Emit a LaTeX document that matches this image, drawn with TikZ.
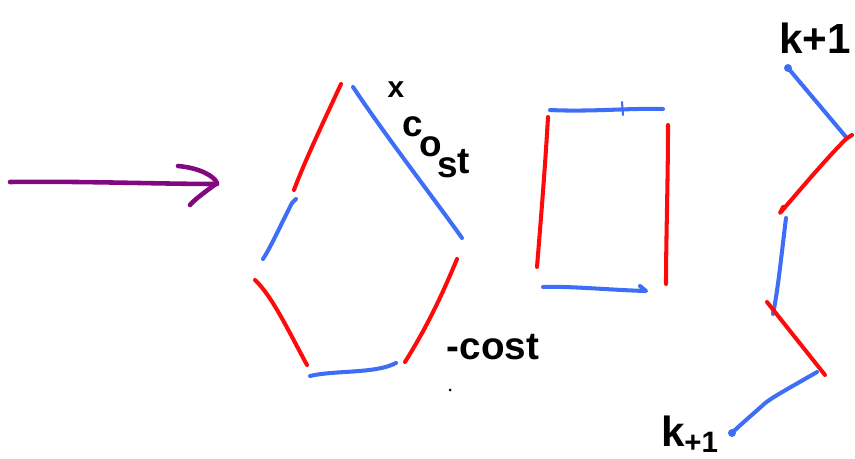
\documentclass[tikz,border=0pt]{standalone}
\usepackage{fontspec}
\setmainfont{Liberation Sans}
\usetikzlibrary{arrows.meta}
\definecolor{penred}{HTML}{FF0A0A}
\definecolor{penblue}{HTML}{3D6EF5}
\definecolor{penpurple}{HTML}{82087F}

\begin{document}
\begin{tikzpicture}[x=0.02cm, y=-0.02cm,
  pen/.style={line width=2.3pt, line cap=round, line join=round},
  redpen/.style={pen, draw=penred},
  bluepen/.style={pen, draw=penblue},
  purplepen/.style={pen, line width=2.6pt, draw=penpurple},
  ink/.style={inner sep=0pt, font=\bfseries},
  enddot/.style={fill=penblue, draw=none}
]
  \useasboundingbox (0,0) rectangle (855,459);

  % arrow on the left
  \draw[purplepen] (10,182) .. controls (80,181) and (160,184) .. (217,184);
  \draw[purplepen] (178,166) .. controls (200,168) and (214,176) .. (217,183)
    .. controls (208,190) and (196,198) .. (190,205);

  % pentagon-like ring
  \draw[redpen]  (341,84) .. controls (330,108) and (305,160) .. (294,190);
  \draw[bluepen] (353,87) .. controls (385,135) and (435,200) .. (462,238);
  \draw[bluepen] (296,199) -- (292,203) .. controls (282,222) and (272,245) .. (263,259);
  \draw[redpen]  (255,280) .. controls (272,296) and (288,330) .. (307,365);
  \draw[bluepen] (310,376) .. controls (335,370) and (375,374) .. (396,363);
  \draw[redpen]  (457,259) .. controls (440,300) and (425,330) .. (405,362);

  \node[ink, font=\bfseries\fontsize{17}{18}\selectfont] (xmark) at (396,90) {x};
  % letters of "cost" going down the slope
  \foreach \ch/\px/\py in {c/413/127, o/431/147, s/448/168, t/464/162}
    \node[ink, font=\bfseries\fontsize{21}{22}\selectfont] (cost-\ch) at (\px,\py) {\ch};
  \node[ink, font=\bfseries\fontsize{22}{24}\selectfont] (minus cost) at (493,347) {-cost};
  \fill (450,390) circle (1.5);

  % rectangle
  \draw[bluepen] (550,110) .. controls (590,112) and (630,108) .. (663,109);
  \draw[bluepen, line width=1.2pt] (622,102) -- (623,115);
  \draw[redpen]  (548,117) .. controls (545,170) and (540,230) .. (537,267);
  \draw[redpen]  (668,125) .. controls (668,180) and (666,240) .. (666,284);
  \draw[bluepen] (543,287) .. controls (570,286) and (610,290) .. (646,291) -- (640,286);

  % zigzag on the right
  \fill[enddot] (788,68) circle (4);
  \draw[bluepen] (788,68) -- (846,137);
  \draw[redpen]  (852,135) -- (846,139) .. controls (825,160) and (800,190) .. (780,213) -- (783,207);
  \draw[bluepen] (786,218) .. controls (782,250) and (778,290) .. (773,314);
  \draw[redpen]  (767,302) -- (825,375);
  \draw[bluepen] (817,372) .. controls (795,385) and (770,398) .. (763,405)
    .. controls (752,415) and (740,425) .. (732,433);
  \fill[enddot] (732,433) circle (4);

  \node[ink, font=\bfseries\fontsize{24}{26}\selectfont] (top step) at (815,38) {k+1};
  \node[ink, font=\bfseries\fontsize{24}{26}\selectfont] (bottom step) at (690,434) {k\textsubscript{+1}};
\end{tikzpicture}
\end{document}
